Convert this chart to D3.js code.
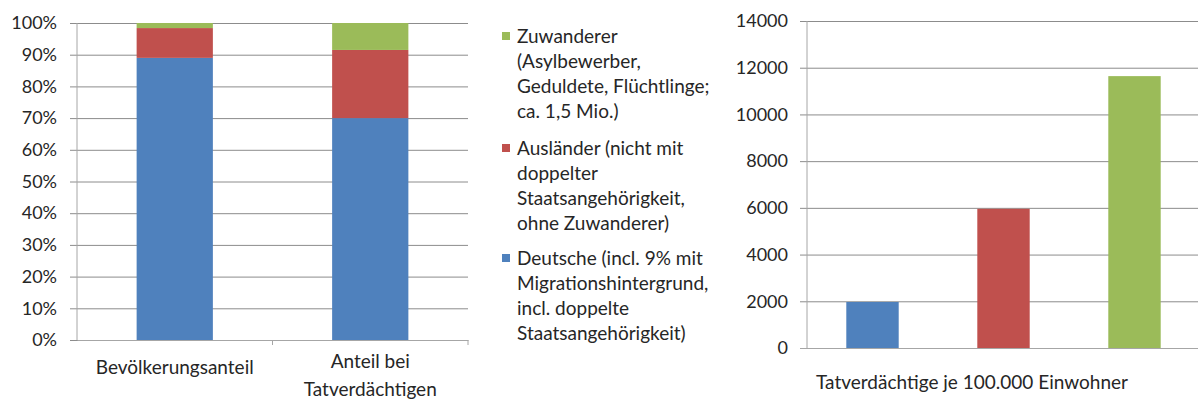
<!DOCTYPE html>
<html>
<head>
<meta charset="utf-8">
<script src="https://cdn.jsdelivr.net/npm/d3@7"></script>
<style>
  body { margin: 0; background: #fff; }
  text { font-family: Lato, "Noto Sans", sans-serif; fill: #262626; }
</style>
</head>
<body>
<div id="chart"></div>
<script>
// Left chart: share of population vs. share of suspects (stacked, in %)
const shareCategories = ["Bevölkerungsanteil", "Anteil bei\nTatverdächtigen"];
const deutscheShare = [89, 70];
const auslaenderShare = [9.4, 21.5];
const zuwandererShare = [1.6, 8.5];
const percentTicks = [0, 10, 20, 30, 40, 50, 60, 70, 80, 90, 100];

// Right chart: suspects per 100,000 inhabitants
const rateCategory = "Tatverdächtige je 100.000 Einwohner";
const rateGroups = ["Deutsche", "Ausländer", "Zuwanderer"];
const rateValues = [1970, 5960, 11640];
const rateTicks = [0, 2000, 4000, 6000, 8000, 10000, 12000, 14000];

// Legend entries, top to bottom
const legendKeys = ["Zuwanderer", "Ausländer", "Deutsche"];
const legendLines = [
  ["Zuwanderer", "(Asylbewerber,", "Geduldete, Flüchtlinge;", "ca. 1,5 Mio.)"],
  ["Ausländer (nicht mit", "doppelter", "Staatsangehörigkeit,", "ohne Zuwanderer)"],
  ["Deutsche (incl. 9% mit", "Migrationshintergrund,", "incl. doppelte", "Staatsangehörigkeit)"]
];

const colors = { Deutsche: "#4f81bd", "Ausländer": "#c0504d", Zuwanderer: "#9bbb59" };
const gridColor = "#8c8c8c";
const axisColor = "#a6a6a6";
const tickFont = "18px";
const labelFont = "19px";

const width = 1198, height = 400;
const svg = d3.select("#chart").append("svg")
  .attr("width", width)
  .attr("height", height);

// ---------- left stacked chart ----------
const left = { x0: 77, x1: 468, top: 23, bottom: 340 };

const xShare = d3.scaleBand()
  .domain(shareCategories)
  .range([left.x0, left.x1])
  .padding(0);

const yShare = d3.scaleLinear()
  .domain([0, 100])
  .range([left.bottom, left.top]);

// gridlines + tick labels
const yShareAxis = d3.axisLeft(yShare)
  .tickValues(percentTicks)
  .tickFormat(d => d + "%")
  .tickSizeInner(-(left.x1 - left.x0))
  .tickSizeOuter(0)
  .tickPadding(20);

const gLeftY = svg.append("g")
  .attr("transform", `translate(${left.x0},0)`)
  .call(yShareAxis);
gLeftY.select(".domain").remove();
gLeftY.selectAll(".tick line")
  .attr("x1", -7)
  .attr("stroke", gridColor);
gLeftY.selectAll(".tick text")
  .style("font-size", tickFont);

// vertical axis line
svg.append("line")
  .attr("x1", left.x0).attr("x2", left.x0)
  .attr("y1", left.top).attr("y2", left.bottom)
  .attr("stroke", axisColor);

const stackRows = shareCategories.map((c, i) => ({
  cat: c,
  Deutsche: deutscheShare[i],
  "Ausländer": auslaenderShare[i],
  Zuwanderer: zuwandererShare[i]
}));
const stacked = d3.stack().keys(["Deutsche", "Ausländer", "Zuwanderer"])(stackRows);

const shareBarW = xShare.bandwidth() * 0.39;
svg.append("g").selectAll("g")
  .data(stacked)
  .join("g")
  .attr("fill", d => colors[d.key])
  .selectAll("rect")
  .data(d => d)
  .join("rect")
  .attr("x", d => xShare(d.data.cat) + (xShare.bandwidth() - shareBarW) / 2)
  .attr("width", shareBarW)
  .attr("y", d => yShare(d[1]))
  .attr("height", d => yShare(d[0]) - yShare(d[1]));

// bottom axis with tick marks between categories
const xShareAxis = d3.axisBottom(xShare).tickSize(0).tickFormat("");
const gLeftX = svg.append("g")
  .attr("transform", `translate(0,${left.bottom})`)
  .call(xShareAxis);
gLeftX.select(".domain").attr("stroke", axisColor);
gLeftX.selectAll(".boundary")
  .data([left.x0 + xShare.step(), left.x1])
  .join("line")
  .attr("class", "boundary")
  .attr("x1", d => d).attr("x2", d => d)
  .attr("y1", 0).attr("y2", 5)
  .attr("stroke", axisColor);

// category labels (second label wraps onto two lines)
const labelBaselines = [374, 368];
shareCategories.forEach((c, i) => {
  const t = svg.append("text")
    .attr("x", xShare(c) + xShare.bandwidth() / 2)
    .attr("y", labelBaselines[i])
    .attr("text-anchor", "middle")
    .style("font-size", labelFont);
  c.split("\n").forEach((line, j) => {
    t.append("tspan")
      .attr("x", xShare(c) + xShare.bandwidth() / 2)
      .attr("dy", j === 0 ? 0 : 28)
      .text(line);
  });
});

// ---------- legend ----------
const legendX = 502, legendTextX = 517;
const groupStarts = [43, 155, 265];
const lineStep = 25;
legendKeys.forEach((k, i) => {
  const g = svg.append("g");
  g.append("rect")
    .attr("x", legendX)
    .attr("y", groupStarts[i] - 11)
    .attr("width", 8)
    .attr("height", 8)
    .attr("fill", colors[k]);
  legendLines[i].forEach((line, j) => {
    g.append("text")
      .attr("x", legendTextX)
      .attr("y", groupStarts[i] + j * lineStep)
      .style("font-size", labelFont)
      .text(line);
  });
});

// ---------- right chart ----------
const right = { x0: 807, x1: 1200, top: 21, bottom: 348 };

const xRate = d3.scaleBand()
  .domain(rateGroups)
  .range([right.x0, right.x1])
  .padding(0);

const yRate = d3.scaleLinear()
  .domain([0, 14000])
  .range([right.bottom, right.top]);

const yRateAxis = d3.axisLeft(yRate)
  .tickValues(rateTicks)
  .tickFormat(d3.format("d"))
  .tickSizeInner(-(right.x1 - right.x0))
  .tickSizeOuter(0)
  .tickPadding(19);

const gRightY = svg.append("g")
  .attr("transform", `translate(${right.x0},0)`)
  .call(yRateAxis);
gRightY.select(".domain").remove();
gRightY.selectAll(".tick line")
  .attr("x1", -7)
  .attr("stroke", d => d === 0 ? axisColor : gridColor);
gRightY.selectAll(".tick text")
  .style("font-size", tickFont);

svg.append("line")
  .attr("x1", right.x0).attr("x2", right.x0)
  .attr("y1", right.top).attr("y2", right.bottom)
  .attr("stroke", axisColor);

const rateBarW = xRate.bandwidth() * 0.4;
svg.append("g").selectAll("rect")
  .data(rateGroups.map((g, i) => ({ group: g, value: rateValues[i] })))
  .join("rect")
  .attr("x", d => xRate(d.group) + (xRate.bandwidth() - rateBarW) / 2)
  .attr("width", rateBarW)
  .attr("y", d => yRate(d.value))
  .attr("height", d => yRate(0) - yRate(d.value))
  .attr("fill", d => colors[d.group]);

svg.append("text")
  .attr("x", 972)
  .attr("y", 389)
  .attr("text-anchor", "middle")
  .style("font-size", labelFont)
  .text(rateCategory);
</script>
</body>
</html>
